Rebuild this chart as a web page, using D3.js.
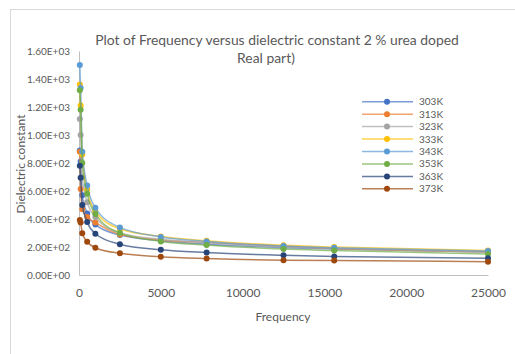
<!DOCTYPE html>
<html>
<head>
<meta charset="utf-8">
<script src="https://cdn.jsdelivr.net/npm/d3@7"></script>
<style>
  body { margin: 0; background: #fff; }
  svg { display: block; font-family: Lato, "Liberation Sans", sans-serif; }
</style>
</head>
<body>
<svg id="chart"></svg>
<script>
// Chart size
const width = 515, height = 354;

// Data
const frequencies = [50, 100, 200, 500, 1000, 2500, 5000, 7800, 12500, 15600, 25000];
const seriesNames = ["303K", "313K", "323K", "333K", "343K", "353K", "363K", "373K"];
const s303 = [890, 810, 570, 440, 360, 285, 245, 220, 195, 185, 165];
const s313 = [880, 615, 470, 415, 375, 290, 250, 232, 205, 190, 166];
const s323 = [1115, 1000, 700, 520, 415, 300, 255, 230, 200, 190, 165];
const s333 = [1360, 1210, 860, 610, 455, 330, 275, 245, 212, 200, 175];
const s343 = [1500, 1335, 880, 640, 480, 340, 272, 240, 207, 195, 172];
const s353 = [1320, 1180, 800, 580, 436, 300, 240, 215, 185, 175, 150];
const s363 = [780, 695, 500, 378, 295, 220, 180, 160, 141, 133, 119];
const s373 = [393, 375, 298, 238, 195, 155, 131, 118, 106, 104, 95];
const seriesValues = [s303, s313, s323, s333, s343, s353, s363, s373];
const colors = ["#4472C4", "#ED7D31", "#A5A5A5", "#FFC000", "#5B9BD5", "#70AD47", "#264478", "#9E480E"];
const xTicks = [0, 5000, 10000, 15000, 20000, 25000];
const yTicks = [0, 200, 400, 600, 800, 1000, 1200, 1400, 1600];

const svg = d3.select("#chart")
    .attr("width", width)
    .attr("height", height);

// outer chart border (runs off the right and bottom edge)
svg.append("rect")
    .attr("x", 10.5).attr("y", 9.5)
    .attr("width", 700).attr("height", 500)
    .attr("fill", "none")
    .attr("stroke", "#d9d9d9");

// Scales
const x = d3.scaleLinear().domain([0, 25000]).range([79, 488]);
const y = d3.scaleLinear().domain([0, 1600]).range([275, 51]);

// Title
svg.append("text")
    .attr("x", 277).attr("y", 45)
    .attr("text-anchor", "middle")
    .attr("font-size", 13.9)
    .attr("fill", "#595959")
    .text("Plot of Frequency versus dielectric constant 2 % urea doped");
svg.append("text")
    .attr("x", 266).attr("y", 63)
    .attr("text-anchor", "middle")
    .attr("font-size", 13.9)
    .attr("fill", "#595959")
    .text("Real part)");

// Axes
const fmtE = v => {
    if (v === 0) return "0.00E+00";
    const e = Math.floor(Math.log10(v));
    return (v / Math.pow(10, e)).toFixed(2) + "E+" + String(e).padStart(2, "0");
};

const xAxis = svg.append("g")
    .attr("transform", `translate(0,${y(0)})`)
    .call(d3.axisBottom(x).tickValues(xTicks).tickSize(0).tickPadding(13).tickFormat(d3.format("d")));
xAxis.select(".domain").attr("stroke", "#bfbfbf");
xAxis.selectAll("text").attr("font-size", 12).attr("fill", "#595959").attr("font-family", "Lato");

const yAxis = svg.append("g")
    .attr("transform", `translate(${x(0)},0)`)
    .call(d3.axisLeft(y).tickValues(yTicks).tickSize(0).tickPadding(9).tickFormat(fmtE));
yAxis.select(".domain").attr("stroke", "#bfbfbf");
yAxis.selectAll("text").attr("font-size", 10).attr("fill", "#595959").attr("font-family", "Lato");

// Axis titles
svg.append("text")
    .attr("x", 283).attr("y", 321)
    .attr("text-anchor", "middle")
    .attr("font-size", 12)
    .attr("fill", "#595959")
    .text("Frequency");
svg.append("text")
    .attr("transform", "translate(25,164) rotate(-90)")
    .attr("text-anchor", "middle")
    .attr("font-size", 12)
    .attr("fill", "#595959")
    .text("Dielectric constant");

// Series lines and markers
const line = d3.line()
    .x(d => x(d[0]))
    .y(d => y(d[1]))
    .curve(d3.curveMonotoneX);

seriesValues.forEach((vals, i) => {
    const pts = frequencies.map((f, j) => [f, vals[j]]);
    svg.append("path")
        .datum(pts)
        .attr("d", line)
        .attr("fill", "none")
        .attr("stroke", colors[i])
        .attr("stroke-opacity", 0.7)
        .attr("stroke-width", 1.5);
    svg.append("g").selectAll("circle")
        .data(pts)
        .enter()
        .append("circle")
        .attr("cx", d => x(d[0]))
        .attr("cy", d => y(d[1]))
        .attr("r", 3)
        .attr("fill", colors[i]);
});

// Legend
const legend = svg.append("g");
seriesNames.forEach((name, i) => {
    const ly = 101.7 + i * 12.45;
    legend.append("line")
        .attr("x1", 362).attr("x2", 413)
        .attr("y1", ly).attr("y2", ly)
        .attr("stroke", colors[i])
        .attr("stroke-opacity", 0.7)
        .attr("stroke-width", 1.5);
    legend.append("circle")
        .attr("cx", 387).attr("cy", ly).attr("r", 3)
        .attr("fill", colors[i]);
    legend.append("text")
        .attr("x", 419).attr("y", ly + 3.5)
        .attr("font-size", 10)
        .attr("fill", "#595959")
        .text(name);
});
</script>
</body>
</html>
